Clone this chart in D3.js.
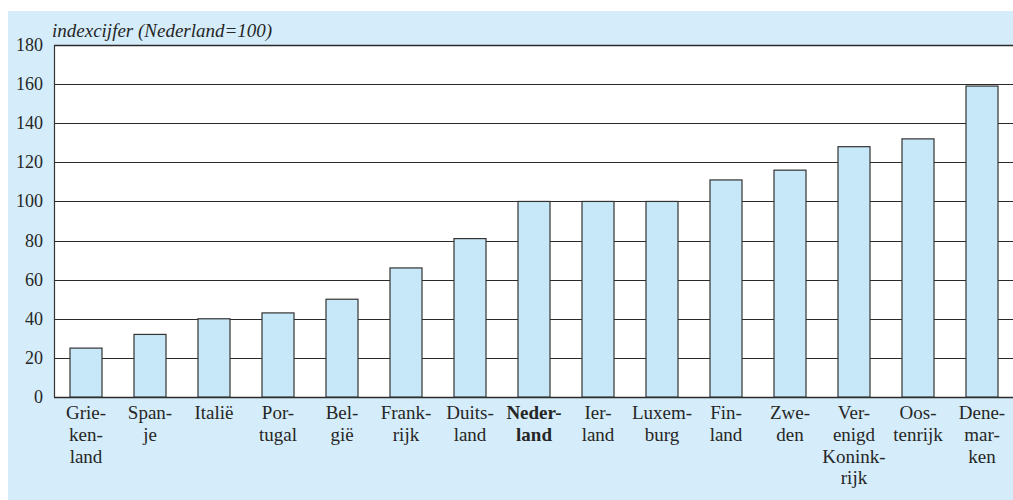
<!DOCTYPE html>
<html>
<head>
<meta charset="utf-8">
<script src="https://cdn.jsdelivr.net/npm/d3@7"></script>
<style>
  body { margin: 0; background: #fff; }
</style>
</head>
<body>
<div id="chart"></div>
<script>
const countries = [
  ["Grie-", "ken-", "land"],
  ["Span-", "je"],
  ["Italië"],
  ["Por-", "tugal"],
  ["Bel-", "gië"],
  ["Frank-", "rijk"],
  ["Duits-", "land"],
  ["Neder-", "land"],
  ["Ier-", "land"],
  ["Luxem-", "burg"],
  ["Fin-", "land"],
  ["Zwe-", "den"],
  ["Ver-", "enigd", "Konink-", "rijk"],
  ["Oos-", "tenrijk"],
  ["Dene-", "mar-", "ken"]
];
const values = [25, 32, 40, 43, 50, 66, 81, 100, 100, 100, 111, 116, 128, 132, 159];
const yTicks = [0, 20, 40, 60, 80, 100, 120, 140, 160, 180];
const highlight = 7; // Nederland in bold
const unitLabel = "indexcijfer (Nederland=100)";

const width = 1013;
const height = 500;
const plotLeft = 54, plotTop = 45, plotBottom = 397, plotRight = 1014;
const serif = '"Liberation Serif"';
const ink = "#262626";

const svg = d3.select("#chart").append("svg").attr("width", width).attr("height", height);

// blue panel
svg.append("rect")
    .attr("x", 8).attr("y", 11)
    .attr("width", width - 8).attr("height", height - 11)
    .attr("fill", "#d5edfa");

const x = d3.scaleBand()
    .domain(d3.range(values.length))
    .range([plotLeft, plotRight])
    .paddingInner(0.5)
    .paddingOuter(0.25);

const y = d3.scaleLinear()
    .domain([0, 180])
    .range([plotBottom, plotTop]);

// white plot area
svg.append("rect")
    .attr("x", plotLeft).attr("y", plotTop)
    .attr("width", width - plotLeft).attr("height", plotBottom - plotTop)
    .attr("fill", "#fff");

// gridlines
svg.append("g")
    .selectAll("line")
    .data(yTicks)
    .enter()
    .append("line")
    .attr("x1", plotLeft).attr("x2", width)
    .attr("y1", d => Math.round(y(d)) + 0.5)
    .attr("y2", d => Math.round(y(d)) + 0.5)
    .attr("stroke", "#2a2a2a")
    .attr("stroke-width", d => (d === 0 || d === 180) ? 1.6 : 1);

// bars
svg.append("g")
    .selectAll("rect")
    .data(values)
    .enter()
    .append("rect")
    .attr("x", (d, i) => x(i))
    .attr("y", d => y(d))
    .attr("width", x.bandwidth())
    .attr("height", d => y(0) - y(d))
    .attr("fill", "#c7e8f8")
    .attr("stroke", "#333")
    .attr("stroke-width", 1.2);

// left axis line
svg.append("line")
    .attr("x1", plotLeft + 0.5).attr("x2", plotLeft + 0.5)
    .attr("y1", plotTop).attr("y2", plotBottom)
    .attr("stroke", "#333")
    .attr("stroke-width", 1.2);

// y tick labels
svg.append("g")
    .selectAll("text")
    .data(yTicks)
    .enter()
    .append("text")
    .attr("x", 43)
    .attr("y", d => y(d) + 6)
    .attr("text-anchor", "end")
    .attr("fill", ink)
    .style("font-family", serif)
    .style("font-size", "18px")
    .text(d => d);

// unit label
svg.append("text")
    .attr("x", 52)
    .attr("y", 37)
    .attr("fill", ink)
    .style("font-family", serif)
    .style("font-size", "19px")
    .style("font-style", "italic")
    .text(unitLabel);

// category labels
const labels = svg.append("g")
    .selectAll("text")
    .data(countries)
    .enter()
    .append("text")
    .attr("text-anchor", "middle")
    .attr("fill", ink)
    .style("font-family", serif)
    .style("font-size", "19px")
    .style("font-weight", (d, i) => i === highlight ? "bold" : "normal");

labels.selectAll("tspan")
    .data((d, i) => d.map(s => ({ s, i })))
    .enter()
    .append("tspan")
    .attr("x", d => x(d.i) + x.bandwidth() / 2)
    .attr("y", (d, j) => 419 + j * 21.8)
    .text(d => d.s);
</script>
</body>
</html>
